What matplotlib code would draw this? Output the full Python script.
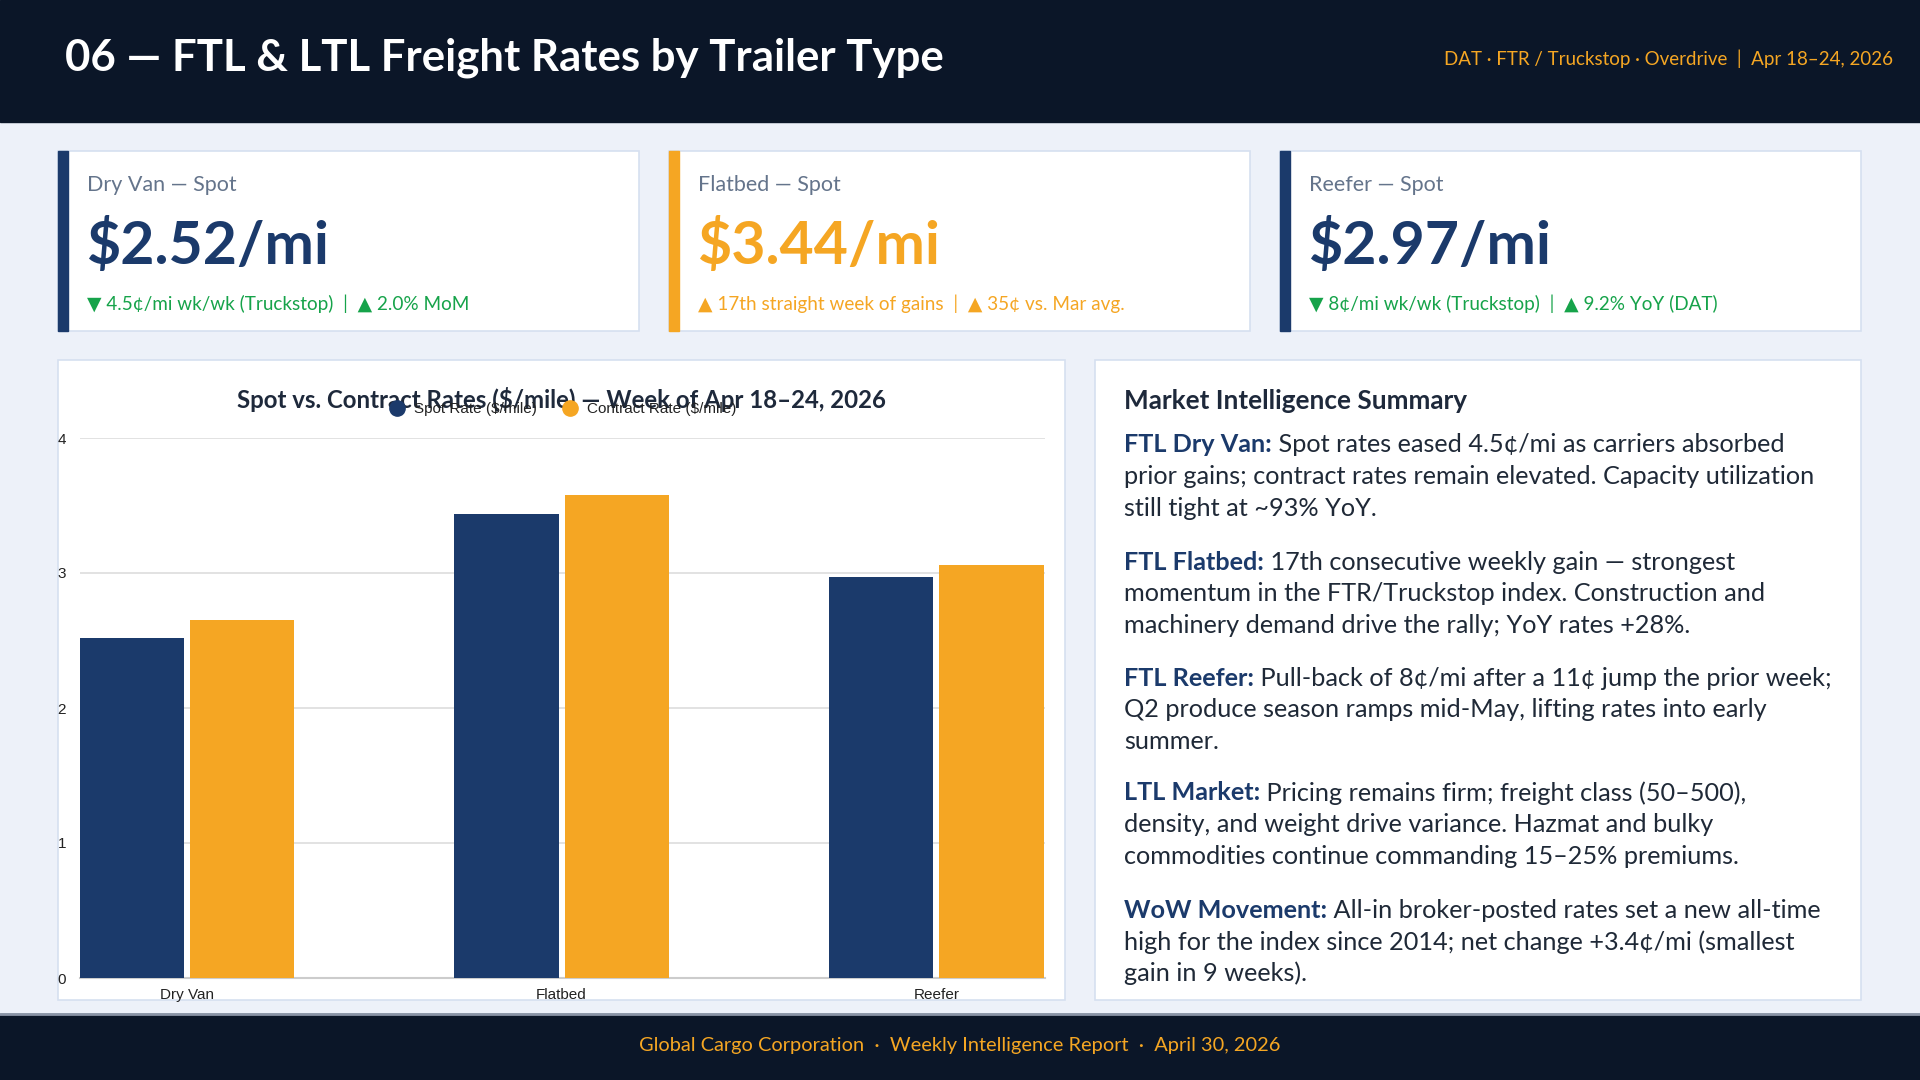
import matplotlib
matplotlib.use("Agg")
import matplotlib.pyplot as plt
from matplotlib.patches import Rectangle
from matplotlib.lines import Line2D
import numpy as np

# ---- data ----
categories = ["Dry Van", "Flatbed", "Reefer"]
spot_rates = [2.52, 3.44, 2.97]
contract_rates = [2.65, 3.58, 3.06]
y_ticks = [0, 1, 2, 3, 4]

card_labels = ["Dry Van \u2014 Spot", "Flatbed \u2014 Spot", "Reefer \u2014 Spot"]
card_values = ["$2.52/mi", "$3.44/mi", "$2.97/mi"]
card_notes = [
    "\u25BC 4.5\u00a2/mi wk/wk (Truckstop)  |  \u25B2 2.0% MoM",
    "\u25B2 17th straight week of gains  |  \u25B2 35\u00a2 vs. Mar avg.",
    "\u25BC 8\u00a2/mi wk/wk (Truckstop)  |  \u25B2 9.2% YoY (DAT)",
]

summary_heads = ["FTL Dry Van:", "FTL Flatbed:", "FTL Reefer:", "LTL Market:", "WoW Movement:"]
summary_lines = [
    [" Spot rates eased 4.5\u00a2/mi as carriers absorbed",
     "prior gains; contract rates remain elevated. Capacity utilization",
     "still tight at ~93% YoY."],
    [" 17th consecutive weekly gain \u2014 strongest",
     "momentum in the FTR/Truckstop index. Construction and",
     "machinery demand drive the rally; YoY rates +28%."],
    [" Pull-back of 8\u00a2/mi after a 11\u00a2 jump the prior week;",
     "Q2 produce season ramps mid-May, lifting rates into early",
     "summer."],
    [" Pricing remains firm; freight class (50\u2013500),",
     "density, and weight drive variance. Hazmat and bulky",
     "commodities continue commanding 15\u201325% premiums."],
    [" All-in broker-posted rates set a new all-time",
     "high for the index since 2014; net change +3.4\u00a2/mi (smallest",
     "gain in 9 weeks)."],
]

# ---- colours ----
NAVY_BG = "#0b1628"
PAGE_BG = "#edf1f9"
NAVY = "#1b3a6b"
ORANGE = "#f5a623"
GREEN = "#16a34a"
GRAY = "#64748b"
DARK = "#1e293b"
BORDER = "#d6e0f0"

FONT = ["Lato", "DejaVu Sans"]
CHART_FONT = ["Liberation Sans", "DejaVu Sans"]

fig = plt.figure(figsize=(19.2, 10.8), dpi=100)
fig.patch.set_facecolor(PAGE_BG)

# full-page canvas in pixel units (y down)
bg = fig.add_axes([0, 0, 1, 1])
bg.set_xlim(0, 1920)
bg.set_ylim(1080, 0)
bg.axis("off")

# header
bg.add_patch(Rectangle((0, 0), 1920, 122, color=NAVY_BG, zorder=1))
bg.text(65, 58, "06 \u2014 FTL & LTL Freight Rates by Trailer Type", color="white",
        fontsize=31.5, fontweight="bold", family=FONT, va="center", ha="left", zorder=2)
bg.text(1893, 59, "DAT \u00b7 FTR / Truckstop \u00b7 Overdrive  |  Apr 18\u201324, 2026",
        color=ORANGE, fontsize=13.5, family=FONT, va="center", ha="right", zorder=2)

# footer
bg.add_patch(Rectangle((0, 1014), 1920, 66, color=NAVY_BG, zorder=1))
bg.plot([0, 1920], [1014, 1014], color="#8a94a6", lw=2, zorder=2)
bg.text(960, 1045, "Global Cargo Corporation  \u00b7  Weekly Intelligence Report  \u00b7  April 30, 2026",
        color=ORANGE, fontsize=14.4, family=FONT, va="center", ha="center", zorder=2)

# KPI cards
card_x = [58, 669, 1280]
accent = [NAVY, ORANGE, NAVY]
value_colors = [NAVY, ORANGE, NAVY]
note_colors = [GREEN, ORANGE, GREEN]
for i in range(3):
    x0 = card_x[i]
    bg.add_patch(Rectangle((x0, 151), 581, 180, facecolor="white", edgecolor=BORDER, lw=1.2, zorder=1))
    bg.add_patch(Rectangle((x0, 151), 10, 180, color=accent[i], zorder=2))
    bg.text(x0 + 29, 185, card_labels[i], color=GRAY, fontsize=15.5, family=FONT, va="center", zorder=3)
    bg.text(x0 + 28, 246, card_values[i], color=value_colors[i], fontsize=42.5, fontweight="bold",
            family=FONT, va="center", zorder=3)
    bg.text(x0 + 29, 304, card_notes[i], color=note_colors[i], fontsize=13.6, family=FONT,
            va="center", zorder=3)

# chart panel and text panel
bg.add_patch(Rectangle((58, 360), 1007, 640, facecolor="white", edgecolor=BORDER, lw=1.2, zorder=1))
bg.add_patch(Rectangle((1095, 360), 766, 640, facecolor="white", edgecolor=BORDER, lw=1.2, zorder=1))

# summary text
bg.text(1124, 401, "Market Intelligence Summary", color=DARK, fontsize=18.8, fontweight="bold",
        family=FONT, va="center", zorder=3)
renderer = fig.canvas.get_renderer()
para_y = [445, 562, 678, 793, 910]
line_h = 31.8
for head, lines, y0 in zip(summary_heads, summary_lines, para_y):
    h = bg.text(1124, y0, head, color=NAVY, fontsize=18.2, fontweight="bold", family=FONT,
                va="center", zorder=3)
    ext = h.get_window_extent(renderer)
    bg.text(ext.x1, y0, lines[0], color="#1f2937", fontsize=18.2, family=FONT, va="center", zorder=3)
    for k, ln in enumerate(lines[1:], start=1):
        bg.text(1124, y0 + k * line_h, ln, color="#1f2937", fontsize=18.2, family=FONT,
                va="center", zorder=3)

# ---- bar chart ----
ax = fig.add_axes([80 / 1920, 1 - 978 / 1080, 965 / 1920, 540 / 1080])
ax.set_facecolor("white")
x = np.arange(len(categories))
w = 0.278
ax.bar(x - 0.147, spot_rates, width=w, color=NAVY, zorder=3)
ax.bar(x + 0.147, contract_rates, width=w, color=ORANGE, zorder=3)
ax.set_xlim(-0.285, 2.29)
ax.set_ylim(0, 4)
ax.set_yticks(y_ticks)
ax.set_xticks(x)
ax.set_xticklabels(categories, family=CHART_FONT, fontsize=11, color="#222222")
ax.set_yticklabels([str(t) for t in y_ticks], family=CHART_FONT, fontsize=11, color="#222222")
ax.tick_params(axis="x", length=0, pad=7)
ax.tick_params(axis="y", length=0, pad=10)
ax.grid(axis="y", color="#dddddd", lw=1.2, zorder=0)
for s in ["top", "right", "left"]:
    ax.spines[s].set_visible(False)
ax.spines["bottom"].set_color("#cccccc")
ax.spines["bottom"].set_linewidth(1.5)

bg.text(561, 400, "Spot vs. Contract Rates ($/mile) \u2014 Week of Apr 18\u201324, 2026", color=DARK,
        fontsize=17.3, fontweight="bold", family=FONT, ha="center", va="center", zorder=3)
handles = [
    Line2D([], [], marker="o", ls="", color=NAVY, markersize=11, label="Spot Rate ($/mile)"),
    Line2D([], [], marker="o", ls="", color=ORANGE, markersize=11, label="Contract Rate ($/mile)"),
]
fig.legend(handles=handles, loc="center", bbox_to_anchor=(559 / 1920, 1 - 409 / 1080), ncol=2,
           frameon=False, prop={"family": CHART_FONT, "size": 11}, handletextpad=0.1,
           columnspacing=1.2, labelcolor="#222222")

fig.savefig("out.png", dpi=100, facecolor=fig.get_facecolor())
